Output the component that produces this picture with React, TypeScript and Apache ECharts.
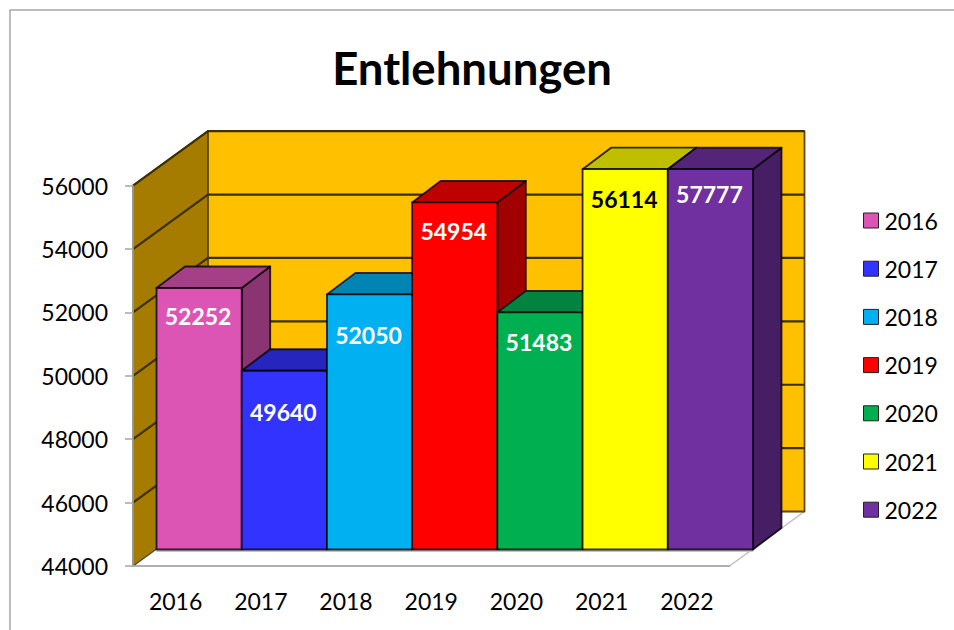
import React, { useEffect, useRef } from "react";
import * as echarts from "echarts";

const years = ["2016", "2017", "2018", "2019", "2020", "2021", "2022"];
const loans = [52252, 49640, 52050, 54954, 51483, 56114, 57777];
const yTicks = [44000, 46000, 48000, 50000, 52000, 54000, 56000];

const frontColors = ["#DC54B4", "#3333FF", "#00B0F0", "#FF0000", "#00B050", "#FFFF00", "#7030A0"];
const topColors = ["#A53F87", "#2626BF", "#0084B4", "#BF0000", "#008440", "#BFBF00", "#542478"];
const sideColors = ["#8A3571", "#20209F", "#006E96", "#A00000", "#006E32", "#A0A000", "#461E64"];
const labelColors = ["#fff", "#fff", "#fff", "#fff", "#fff", "#000", "#fff"];
const labelDrop = [28, 41, 41, 29, 30, 30, 25];

const FONT = "Lato, Carlito, Calibri, sans-serif";
const AXIS_MIN = 44000;
const AXIS_MAX = 56000;
const WALL_DX = 75;
const WALL_DY = 54.5;
const BAR_OFF_X = 23.5;
const BAR_OFF_Y = 16.5;
const BAR_DX = 28.5;
const BAR_DY = 21.5;
const EDGE = "rgba(0,0,0,0.8)";

function poly(points: number[][], fill: string, stroke: string, lineWidth = 1.8) {
  return {
    type: "polygon",
    shape: { points },
    style: { fill, stroke, lineWidth, lineJoin: "round" },
  };
}

function renderWalls(_p: any, api: any) {
  const band = api.size([1, 0])[0];
  const left = api.coord([0, AXIS_MIN])[0] - band / 2;
  const right = api.coord([6, AXIS_MIN])[0] + band / 2;
  const bottom = api.coord([0, AXIS_MIN])[1];
  const top = api.coord([0, AXIS_MAX])[1];
  return {
    type: "group",
    children: [
      poly(
        [[left, bottom], [left + WALL_DX, bottom - WALL_DY], [right + WALL_DX, bottom - WALL_DY], [right, bottom]],
        "#ffffff",
        "#bfbfbf",
        1.5
      ),
      poly(
        [[left, bottom], [left, top], [left + WALL_DX, top - WALL_DY], [left + WALL_DX, bottom - WALL_DY]],
        "#A67C00",
        "#4d4d3a",
        1.5
      ),
      poly(
        [[left + WALL_DX, top - WALL_DY], [right + WALL_DX, top - WALL_DY], [right + WALL_DX, bottom - WALL_DY], [left + WALL_DX, bottom - WALL_DY]],
        "#FFC000",
        "#5a4a10",
        1.8
      ),
    ],
  };
}

function renderGridLine(_p: any, api: any) {
  const v = api.value(1);
  const band = api.size([1, 0])[0];
  const left = api.coord([0, v])[0] - band / 2;
  const right = api.coord([6, v])[0] + band / 2;
  const y = api.coord([0, v])[1];
  return {
    type: "polyline",
    shape: {
      points: [[left, y], [left + WALL_DX, y - WALL_DY], [right + WALL_DX, y - WALL_DY]],
    },
    style: { fill: "none", stroke: "#3d3000", lineWidth: 2.2 },
  };
}

function renderBar(_p: any, api: any) {
  const i = api.value(0);
  const value = api.value(1);
  const band = api.size([1, 0])[0];
  const cx = api.coord([i, AXIS_MIN])[0];
  const x0 = cx - band / 2 + BAR_OFF_X;
  const x1 = cx + band / 2 + BAR_OFF_X;
  const yb = api.coord([i, AXIS_MIN])[1] - BAR_OFF_Y;
  const yt = api.coord([i, Math.min(value, AXIS_MAX)])[1] - BAR_OFF_Y;
  return {
    type: "group",
    children: [
      {
        type: "line",
        shape: { x1: x0, y1: yb + 1.5, x2: x1, y2: yb + 1.5 },
        style: { stroke: "#c4c4c4", lineWidth: 2 },
      },
      poly([[x1, yt], [x1 + BAR_DX, yt - BAR_DY], [x1 + BAR_DX, yb - BAR_DY], [x1, yb]], sideColors[i], EDGE),
      poly([[x0, yt], [x0 + BAR_DX, yt - BAR_DY], [x1 + BAR_DX, yt - BAR_DY], [x1, yt]], topColors[i], EDGE),
      poly([[x0, yt], [x1, yt], [x1, yb], [x0, yb]], frontColors[i], EDGE),
      {
        type: "text",
        x: (x0 + x1) / 2 - 1,
        y: yt + labelDrop[i],
        style: {
          text: String(value),
          fill: labelColors[i],
          fontFamily: FONT,
          fontWeight: "bold",
          fontSize: 23,
          align: "center",
          verticalAlign: "middle",
        },
      },
    ],
  };
}

export default function App() {
  const ref = useRef<HTMLDivElement>(null);

  useEffect(() => {
    const chart = echarts.init(ref.current!, undefined, { renderer: "svg" });
    chart.setOption({
      animation: false,
      backgroundColor: "#ffffff",
      title: {
        text: "Entlehnungen",
        left: 472,
        top: 44,
        padding: 0,
        textAlign: "center",
        textStyle: { fontFamily: FONT, fontWeight: "bold", fontSize: 45.5, color: "#000" },
      },
      graphic: [
        {
          type: "polyline",
          shape: { points: [[10, 630], [10, 10], [954, 10]] },
          style: { fill: "none", stroke: "#a6a6a6", lineWidth: 1.5 },
          z: 0,
        },
      ],
      legend: {
        orient: "vertical",
        left: 863,
        top: 209,
        padding: 0,
        icon: "rect",
        itemWidth: 15,
        itemHeight: 15,
        itemGap: 25.2,
        textStyle: { fontFamily: FONT, fontSize: 23, color: "#000", padding: [0, 0, 0, 1] },
        selectedMode: false,
        data: years.map((name, i) => ({
          name,
          itemStyle: { color: frontColors[i], borderColor: "#222", borderWidth: 1 },
        })),
      },
      grid: { left: 133, right: 224.5, top: 185.7, bottom: 64, containLabel: false },
      xAxis: {
        type: "category",
        data: years,
        z: 5,
        boundaryGap: true,
        axisLine: { lineStyle: { color: "#a6a6a6", width: 1.5 } },
        axisTick: { length: 8, alignWithLabel: false, lineStyle: { color: "#a6a6a6", width: 1.5 } },
        axisLabel: { margin: 23, fontFamily: FONT, fontSize: 23, color: "#000", interval: 0 },
      },
      yAxis: {
        type: "value",
        min: AXIS_MIN,
        max: AXIS_MAX,
        interval: 2000,
        z: 5,
        splitLine: { show: false },
        axisLine: { show: true, lineStyle: { color: "#a6a6a6", width: 1.5 } },
        axisTick: { show: true, length: 8, lineStyle: { color: "#a6a6a6", width: 1.5 } },
        axisLabel: {
          margin: 25,
          fontFamily: FONT,
          fontSize: 23,
          color: "#000",
          formatter: (v: number) => String(v),
        },
      },
      series: [
        {
          type: "custom",
          name: "walls",
          renderItem: renderWalls,
          data: [[0, AXIS_MIN]],
          silent: true,
        },
        {
          type: "custom",
          name: "grid",
          renderItem: renderGridLine,
          data: yTicks.slice(1).map((v) => [0, v]),
          silent: true,
        },
        ...years.map((name, i) => ({
          type: "custom",
          name,
          renderItem: renderBar,
          itemStyle: { color: frontColors[i] },
          encode: { x: 0, y: 1 },
          data: [[i, loans[i]]],
          silent: true,
        })),
      ],
    });
    return () => chart.dispose();
  }, []);

  return (
    <div
      ref={ref}
      style={{ position: "fixed", left: 0, top: 0, width: 954, height: 630, overflow: "hidden" }}
    />
  );
}
